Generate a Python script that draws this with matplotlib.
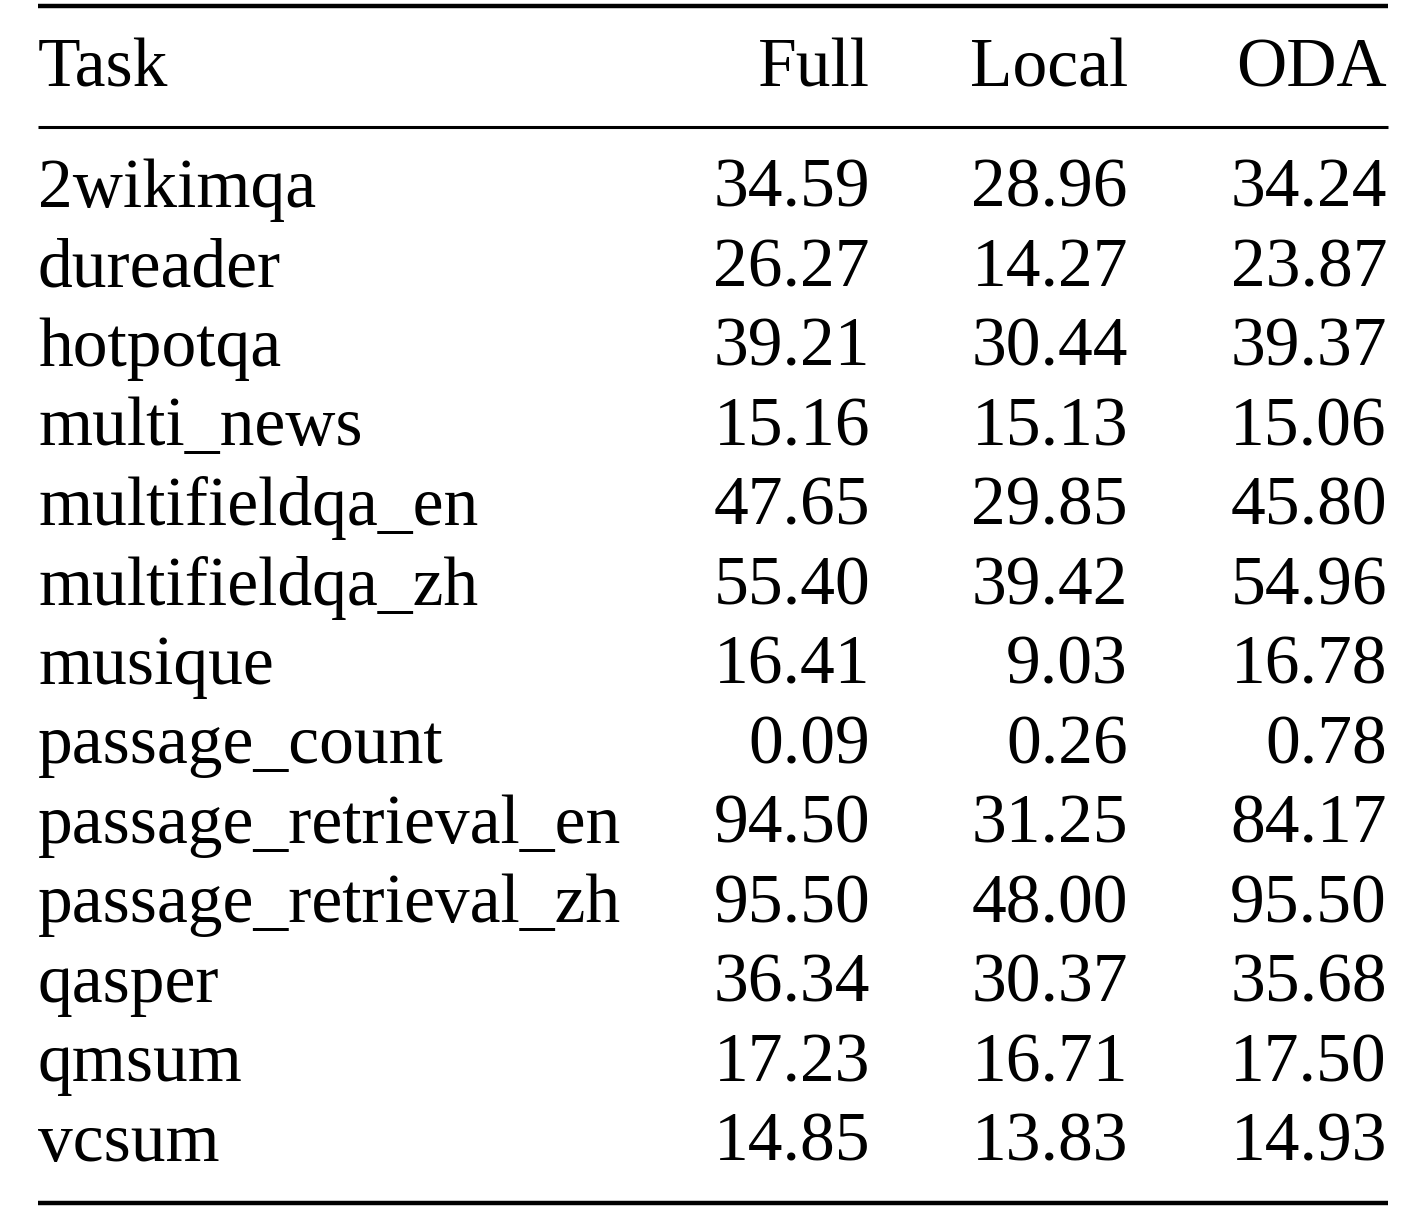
import matplotlib.pyplot as plt

tasks = ["2wikimqa", "dureader", "hotpotqa", "multi_news", "multifieldqa_en",
         "multifieldqa_zh", "musique", "passage_count", "passage_retrieval_en",
         "passage_retrieval_zh", "qasper", "qmsum", "vcsum"]
full = [34.59, 26.27, 39.21, 15.16, 47.65, 55.40, 16.41, 0.09, 94.50, 95.50, 36.34, 17.23, 14.85]
local = [28.96, 14.27, 30.44, 15.13, 29.85, 39.42, 9.03, 0.26, 31.25, 48.00, 30.37, 16.71, 13.83]
oda = [34.24, 23.87, 39.37, 15.06, 45.80, 54.96, 16.78, 0.78, 84.17, 95.50, 35.68, 17.50, 14.93]
headers = ["Task", "Full", "Local", "ODA"]

W, H = 1424, 1228
fig = plt.figure(figsize=(W / 100, H / 100), dpi=100)
ax = fig.add_axes([0, 0, 1, 1])
ax.set_xlim(0, W)
ax.set_ylim(H, 0)
ax.axis("off")

font = dict(family="Liberation Serif", fontsize=50)
x_task, x_cols = 38, [870, 1128, 1387]

# rules
ax.plot([38, 1388], [6, 6], color="black", lw=3.2, solid_capstyle="butt")
ax.plot([38, 1388], [127, 127], color="black", lw=2.2, solid_capstyle="butt")
ax.plot([38, 1388], [1203, 1203], color="black", lw=3.2, solid_capstyle="butt")

ax.text(x_task, 70, headers[0], ha="left", va="center", **font)
for x, h in zip(x_cols, headers[1:]):
    ax.text(x, 70, h, ha="right", va="center", **font)

for i, t in enumerate(tasks):
    y = 190 + i * 79.5
    ax.text(x_task, y, t, ha="left", va="center", **font)
    for x, v in zip(x_cols, (full[i], local[i], oda[i])):
        ax.text(x, y, f"{v:.2f}", ha="right", va="center", **font)

fig.savefig("out.png", dpi=100)
